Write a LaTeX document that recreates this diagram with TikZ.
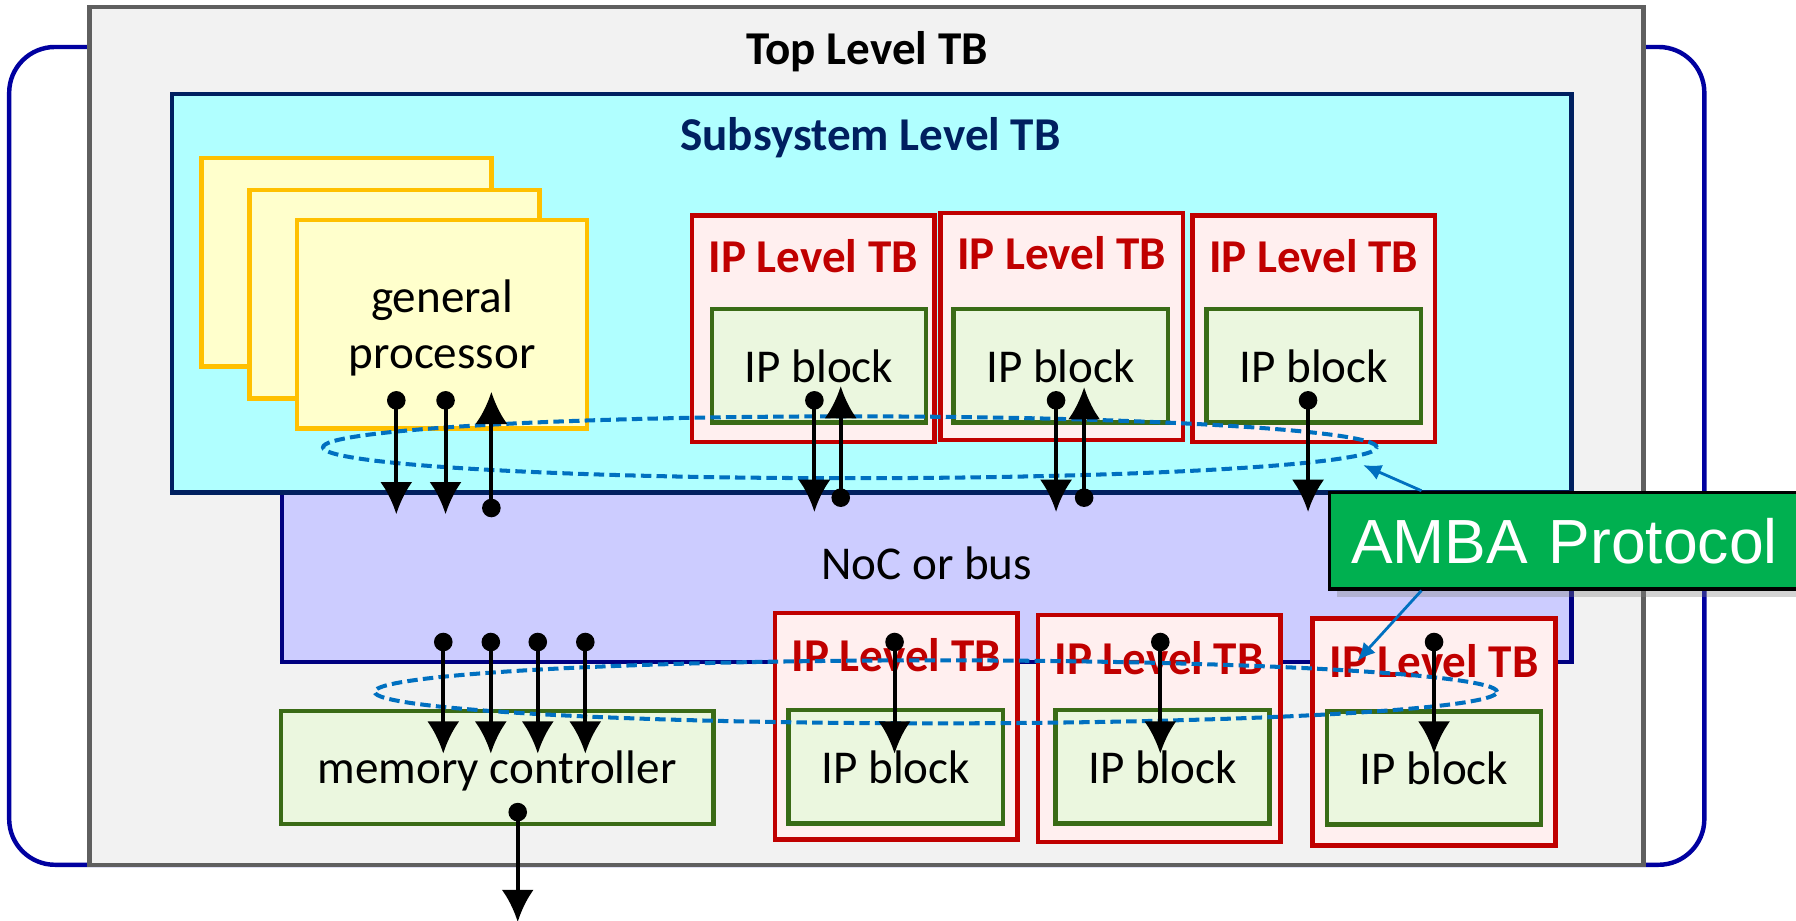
\documentclass[tikz,border=0pt]{standalone}
\usepackage{fontspec}
\setmainfont{Carlito}
\newfontfamily\arialfont{Liberation Sans}
\usetikzlibrary{positioning,calc,shapes.geometric,arrows.meta,shadows}

\definecolor{wrapblue}{HTML}{0000A0}
\definecolor{topgray}{HTML}{5F5F5F}
\definecolor{topfill}{HTML}{F2F2F2}
\definecolor{subnavy}{HTML}{002060}
\definecolor{subfill}{HTML}{B0FFFF}
\definecolor{busnavy}{HTML}{000080}
\definecolor{busfill}{HTML}{CCCCFF}
\definecolor{cpuedge}{HTML}{FFC000}
\definecolor{cpufill}{HTML}{FFFFCC}
\definecolor{ipred}{HTML}{C00000}
\definecolor{ipfill}{HTML}{FFEFEF}
\definecolor{blkgreen}{HTML}{3A6B16}
\definecolor{blkfill}{HTML}{EBF7DF}
\definecolor{ringblue}{HTML}{0070C0}
\definecolor{ambagreen}{HTML}{00B050}

\begin{document}
\begin{tikzpicture}[x=0.1mm,y=-0.1mm,>={Latex[length=8pt,width=8pt]},
  font=\fontsize{11.7}{14}\selectfont,
  wrap/.style={draw=wrapblue,line width=1.1pt,rounded corners=4mm,fill=white},
  toptb/.style={draw=topgray,line width=1.1pt,fill=topfill},
  subtb/.style={draw=subnavy,line width=1.1pt,fill=subfill},
  bus/.style={draw=busnavy,line width=1.1pt,fill=busfill},
  cpu/.style={draw=cpuedge,line width=1.1pt,fill=cpufill,minimum width=25.3mm,minimum height=18.2mm,align=center,text depth=0pt},
  iptb/.style={draw=ipred,line width=1.1pt,fill=ipfill,minimum width=21.2mm,minimum height=19.8mm},
  blk/.style={draw=blkgreen,line width=1.1pt,fill=blkfill,minimum width=18.7mm,minimum height=9.9mm,text depth=0pt},
  hdr/.style={font=\fontsize{11.7}{14}\selectfont\bfseries,inner sep=0pt,text depth=0pt},
  iphdr/.style={hdr,text=ipred},
  ring/.style={ellipse,draw=ringblue,line width=1pt,dash pattern=on 2.6pt off 1.3pt,inner sep=0pt},
  tap/.style={line width=1pt,{Circle[length=4.6pt]}->},
  amba/.style={fill=ambagreen,draw=black,line width=0.9pt,text=white,
    font=\arialfont\fontsize{15.5}{18}\selectfont,text width=62mm,align=left,
    inner xsep=1.9mm,inner ysep=2.2mm,minimum height=8.4mm,text depth=0pt,
    drop shadow={shadow xshift=0.7mm,shadow yshift=-0.7mm,opacity=0.35}},
  note/.style={draw=ringblue,line width=0.7pt,-{Latex[length=4.5pt,width=4pt]}}]
  \useasboundingbox (0,0) rectangle (1568,804);

  % levels of test bench
  \node[wrap,minimum width=148mm,minimum height=71.4mm] (wrap) at (748,398) {};
  \node[toptb,minimum width=135.7mm,minimum height=74.9mm] (tb0) at (756.5,380.5) {};
  \node[hdr] (tbname) at (757,42) {Top Level TB};
  \node[bus,minimum width=112.6mm,minimum height=17.2mm] (noc) at (809,492) {NoC or bus};
  \node[subtb,minimum width=122.2mm,minimum height=34.8mm] (sub) at (761,256) {};
  \node[hdr,text=subnavy] (subname) at (760,117) {Subsystem Level TB};

  % processors
  \node[cpu] (gp1) at (302.5,229) {};
  \node[cpu] (gp2) at ($(gp1)+(42,28)$) {};
  \node[cpu] (gp3) at ($(gp2)+(41.5,26)$) {general\\processor};

  % IP level TBs inside the subsystem
  \node[iptb] (ipa) at (710,287) {};
  \node[iptb] (ipb) at (927,285) {};
  \node[iptb] (ipc) at (1147,287) {};
  \foreach \n in {ipa,ipb,ipc}
    \node[iphdr] at ($(\n.north)+(0,37)$) {IP Level TB};
  \node[blk] (ipablk) at (715,319.5) {IP block};
  \node[blk] (ipbblk) at (926,319.5) {IP block};
  \node[blk] (ipcblk) at (1147,319.5) {IP block};
  \node[ring,minimum width=92mm,minimum height=5.4mm] (ring1) at (742,390.5) {};

  % IP level TBs on the bus
  \node[iptb] (ipd) at (782.5,634) {};
  \node[iptb] (ipe) at (1012,636) {};
  \node[iptb] (ipf) at (1252,639) {};
  \foreach \n in {ipd,ipe,ipf}
    \node[iphdr] at ($(\n.north)+(0,39)$) {IP Level TB};
  \node[blk] (ipdblk) at (782,669.5) {IP block};
  \node[blk] (ipeblk) at (1015,669.5) {IP block};
  \node[blk] (ipfblk) at (1252,670.5) {IP block};
  \node[blk,minimum width=37.75mm] (mem) at (434,670) {memory controller};
  \node[ring,minimum width=98mm,minimum height=5.5mm] (ring2) at (817,604) {};

  % ports
  \foreach \dx in {-40,3}
    \draw[tap] ($(gp3.south)+(\dx,-34.5)$) -- ++(0,107.5);
  \draw[tap] ($(noc.north)+(-380,47.5)$) -- ++(0,-109.5);
  \draw[tap] ($(ipablk.south)+(-4,-29.5)$) -- ++(0,105.5);
  \draw[tap] ($(noc.north)+(-75,38.5)$) -- ++(0,-105.5);
  \draw[tap] ($(ipbblk.south)+(-4,-29.5)$) -- ++(0,105.5);
  \draw[tap] ($(noc.north)+(137.5,38.5)$) -- ++(0,-104.5);
  \draw[tap] ($(ipcblk.south)+(-5,-29.5)$) -- ++(0,105.5);
  \foreach \dx in {-422,-380.5,-339.5,-298,-28,204,443}
    \draw[tap] ($(noc.south)+(\dx,-27.5)$) -- ++(0,105.5);
  \draw[tap] ($(mem.south)+(18,-20.5)$) -- ++(0,104);

  % protocol callout
  \node[amba,anchor=west] (amba) at (1159,472) {AMBA Protocol};
  \coordinate (hit1) at (1190,406);
  \coordinate (hit2) at (1185,577);
  \draw[note] ([xshift=8.2mm]amba.north west) -- (hit1);
  \draw[note] ([xshift=8.2mm]amba.south west) -- (hit2);
\end{tikzpicture}
\end{document}
